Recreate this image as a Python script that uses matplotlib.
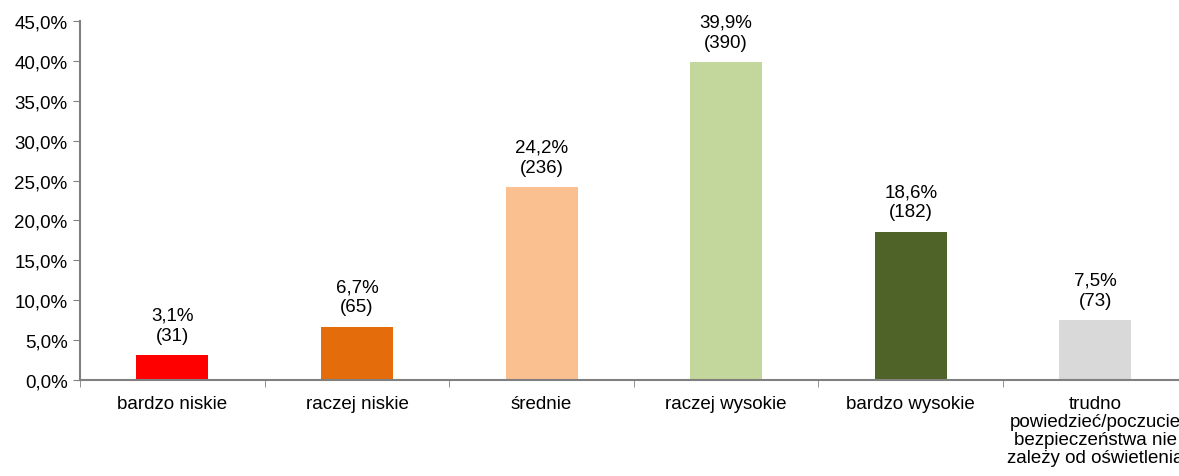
import matplotlib.pyplot as plt
from matplotlib.ticker import FuncFormatter

plt.rcParams["font.family"] = ["Liberation Sans", "DejaVu Sans"]

categories = [
    "bardzo niskie",
    "raczej niskie",
    "średnie",
    "raczej wysokie",
    "bardzo wysokie",
    "trudno\npowiedzieć/poczucie\nbezpieczeństwa nie\nzależy od oświetlenia",
]
percents = [3.1, 6.7, 24.2, 39.9, 18.6, 7.5]
counts = [31, 65, 236, 390, 182, 73]
colors = ["#FF0000", "#E46C0A", "#FAC090", "#C3D69B", "#4F6228", "#D9D9D9"]

fig = plt.figure(figsize=(11.79, 4.77), dpi=100)
ax = fig.add_axes([0.0679, 0.2013, 0.9394, 0.7526])

x = list(range(len(categories)))
ax.bar(x, percents, width=0.39, color=colors, zorder=2)

for xi, p, n in zip(x, percents, counts):
    ax.annotate(
        f"{p:.1f}%".replace(".", ",") + f"\n({n})",
        (xi, p),
        xytext=(0, 8),
        textcoords="offset points",
        ha="center",
        va="bottom",
        fontsize=13.5,
        linespacing=1.25,
    )

ax.set_xlim(-0.5, len(categories) - 0.5)
ax.set_ylim(0, 45)
ax.set_yticks(range(0, 46, 5))
ax.yaxis.set_major_formatter(FuncFormatter(lambda v, _: f"{v:.1f}%".replace(".", ",")))

# category labels centred, tick marks on category boundaries
ax.set_xticks(x)
ax.set_xticklabels(categories, fontsize=13.5, linespacing=1.08, va="top")
ax.tick_params(axis="x", length=0, pad=11)
ax.set_xticks([i + 0.5 for i in range(-1, len(categories))], minor=True)
ax.tick_params(axis="x", which="minor", length=5, color="#808080")
ax.tick_params(axis="y", labelsize=13.5, length=5, color="#808080", pad=4)

for side in ["top", "right"]:
    ax.spines[side].set_visible(False)
for side in ["left", "bottom"]:
    ax.spines[side].set_color("#808080")
    ax.spines[side].set_linewidth(1.5)

fig.savefig("out.png", dpi=100)
